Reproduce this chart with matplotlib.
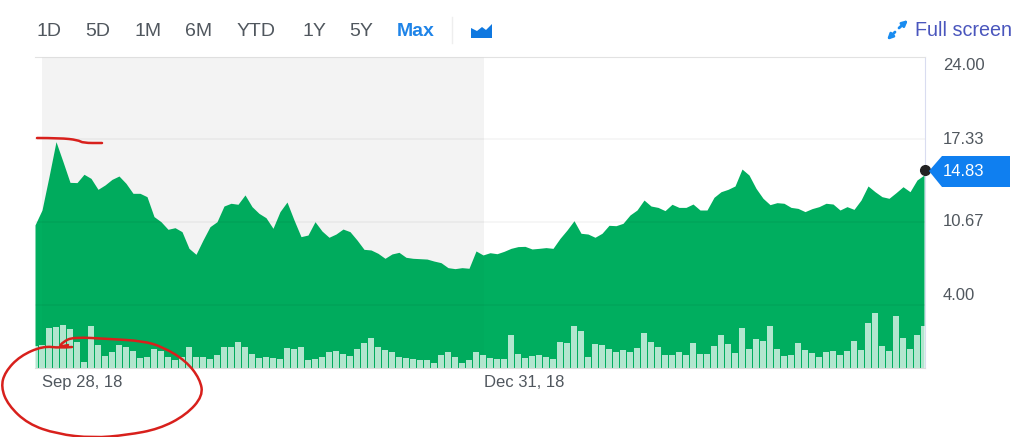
import matplotlib
matplotlib.use('Agg')
import matplotlib.pyplot as plt
from matplotlib.patches import Polygon, PathPatch
from matplotlib.path import Path

plt.rcParams['font.family'] = ['Liberation Sans', 'DejaVu Sans']

# Price per trading day
price = [10.43, 11.63, 14.31, 17.12, 15.51, 13.85, 13.83, 14.50, 14.17, 13.29, 13.64, 14.09,
         14.36, 13.77, 12.97, 12.97, 12.70, 11.10, 10.69, 10.08, 10.21, 9.89, 8.55, 8.07,
         9.22, 10.29, 10.69, 11.95, 12.17, 12.09, 12.84, 11.90, 11.36, 11.01, 10.16, 11.50,
         12.27, 10.83, 9.49, 9.62, 10.69, 9.94, 9.44, 9.70, 10.10, 9.89, 9.22, 8.47,
         8.42, 8.15, 7.75, 8.10, 8.23, 7.83, 7.75, 7.72, 7.69, 7.53, 7.40, 7.00,
         6.92, 7.00, 6.95, 8.34, 8.02, 8.20, 8.12, 8.31, 8.55, 8.69, 8.71, 8.50,
         8.55, 8.61, 8.55, 9.35, 10.02, 10.77, 9.76, 9.70, 9.44, 9.76, 10.40, 10.37,
         10.56, 11.23, 11.63, 12.43, 11.95, 11.84, 11.58, 12.09, 11.84, 11.84, 12.11, 11.63,
         11.63, 12.65, 13.10, 13.29, 13.56, 14.92, 14.44, 13.37, 12.57, 12.06, 12.22, 12.17,
         11.84, 11.76, 11.50, 11.74, 11.90, 12.17, 12.11, 11.63, 11.90, 11.68, 12.43, 13.56,
         13.10, 12.70, 12.57, 13.02, 13.50, 13.10, 14.04, 14.44]

# Volume bars, arbitrary units since the chart has no volume scale
volume = [22, 23, 40, 41, 43, 39, 26, 6, 42, 23, 12, 16, 23, 21, 17, 10, 11, 19, 17, 11, 8, 11,
          21, 11, 11, 9, 13, 21, 21, 26, 21, 14, 10, 11, 10, 9, 20, 19, 21, 8, 9, 11, 16, 17,
          14, 12, 19, 25, 30, 21, 18, 16, 11, 10, 9, 8, 8, 5, 13, 16, 11, 5, 8, 16, 13, 10,
          9, 9, 33, 14, 10, 12, 13, 11, 9, 26, 25, 42, 37, 11, 24, 23, 19, 16, 18, 16, 20,
          35, 26, 21, 13, 13, 16, 13, 25, 14, 14, 22, 33, 24, 15, 40, 19, 29, 27, 42, 19, 12,
          13, 25, 18, 15, 11, 16, 17, 13, 17, 27, 18, 45, 55, 22, 17, 52, 30, 19, 33, 42]

range_labels = ['1D', '5D', '1M', '6M', 'YTD', '1Y', '5Y']
range_x = [36, 85, 135, 185, 237, 302, 349]
grid_values = [17.33, 10.67, 4.00]
axis_labels = ['24.00', '17.33', '10.67', '4.00']
axis_label_y = [65, 140, 222, 296]
date_ticks = [1, 64.14]
date_labels = ['Sep 28, 18', 'Dec 31, 18']
last_price = 14.83

# Red pen marks, in pixels
circle_x = [72, 60, 43, 20, 5, 1, 8, 28, 57, 93, 127, 159, 186, 203, 200, 186, 163, 143, 110, 73, 63, 59, 68]
circle_y = [347, 348, 346, 356, 372, 387, 405, 424, 434, 438, 435, 429, 415, 396, 379, 361, 347, 341, 339, 337, 342, 347, 345]
pen_x = [37, 60, 78, 83, 102]
pen_y = [138, 138, 140, 143, 143]

BLUE = '#0f7ff0'
GREY = '#50575e'
RED = '#d8201c'


def smooth_path(xs, ys):
    # quadratic curve through the midpoints of the pen points
    verts = [(xs[0], ys[0])]
    codes = [Path.MOVETO]
    for i in range(1, len(xs) - 1):
        verts.append((xs[i], ys[i]))
        verts.append(((xs[i] + xs[i + 1]) / 2, (ys[i] + ys[i + 1]) / 2))
        codes += [Path.CURVE3, Path.CURVE3]
    verts.append((xs[-1], ys[-1]))
    codes.append(Path.LINETO)
    return Path(verts, codes)


fig = plt.figure(figsize=(10.24, 4.37), dpi=100)
left, right, top, bottom = 35 / 1024, 925 / 1024, 1 - 57 / 437, 1 - 368 / 437
rect = [left, bottom, right - left, top - bottom]

ax = fig.add_axes(rect)
days = list(range(len(price)))
ax.axvspan(1, date_ticks[1], color='#f6f6f6', lw=0, zorder=1)
ax.fill_between(days, price, -1.06, color='#00ae5f', lw=0, zorder=2)
ax.axvspan(1, date_ticks[1], color='black', alpha=0.012, lw=0, zorder=3)
for g in grid_values:
    ax.axhline(g, color='black', alpha=0.045, lw=1.2, zorder=3)
ax.set_xlim(0, 127.14)
ax.set_ylim(-1.06, 23.92)
ax.set_yticks([])
ax.set_xticks(date_ticks)
ax.set_xticklabels(date_labels, ha='left', fontsize=12, color=GREY)
ax.tick_params(axis='x', length=0, pad=5)
ax.spines['left'].set_visible(False)
ax.spines['top'].set_color('#e2e2e2')
ax.spines['right'].set_color('#d9dcf0')
ax.spines['bottom'].set_color('#dcdcdc')

# Volume shares the plot area on its own scale
vol_ax = fig.add_axes(rect)
vol_ax.patch.set_alpha(0)
vol_ax.bar(days, volume, width=0.76, color='white', alpha=0.7, lw=0)
vol_ax.set_xlim(0, 127.14)
vol_ax.set_ylim(0, 311)
vol_ax.axis('off')

# Page furniture in pixel coordinates
px = fig.add_axes([0, 0, 1, 1])
px.patch.set_alpha(0)
px.set_xlim(0, 1024)
px.set_ylim(437, 0)
px.axis('off')

for label, x in zip(range_labels, range_x):
    px.text(x, 31, label, fontsize=14, color=GREY, va='center')
px.text(397, 31, 'Max', fontsize=14, color='#1f84e8', fontweight='bold', va='center')
px.plot([452, 452], [17, 43], color='#eeeeee', lw=1)
px.add_patch(Polygon([(471, 38), (471, 28), (477, 31), (482, 27), (486, 30), (492, 24), (492, 38)],
                     closed=True, color='#0f78e0', lw=0))
px.text(915, 30, 'Full screen', fontsize=14.2, color='#4a56bd', va='center')
for start, end in [((899, 28), (908, 20)), ((895, 32), (887, 40))]:
    px.annotate('', xy=end, xytext=start,
                arrowprops=dict(arrowstyle='-|>', color='#1a8cf0', lw=2, mutation_scale=8, shrinkA=0, shrinkB=0))

for label, y in zip(axis_labels, axis_label_y):
    px.text(943, y, label, fontsize=12, color=GREY, va='center')

px.add_patch(Polygon([(929, 171), (942, 156), (1010, 156), (1010, 187), (942, 187)],
                     closed=True, color=BLUE, lw=0))
px.text(943, 171, f'{last_price:.2f}', fontsize=12, color='white', va='center')
ax.plot([127.14], [last_price], 'o', color='#222222', ms=7, clip_on=False, zorder=6)

px.add_patch(PathPatch(smooth_path(circle_x, circle_y), fill=False, edgecolor=RED, lw=1.8, capstyle='round', clip_on=False))
px.add_patch(PathPatch(smooth_path(pen_x, pen_y), fill=False, edgecolor=RED, lw=1.8, capstyle='round'))

fig.savefig('out.png', dpi=100)
